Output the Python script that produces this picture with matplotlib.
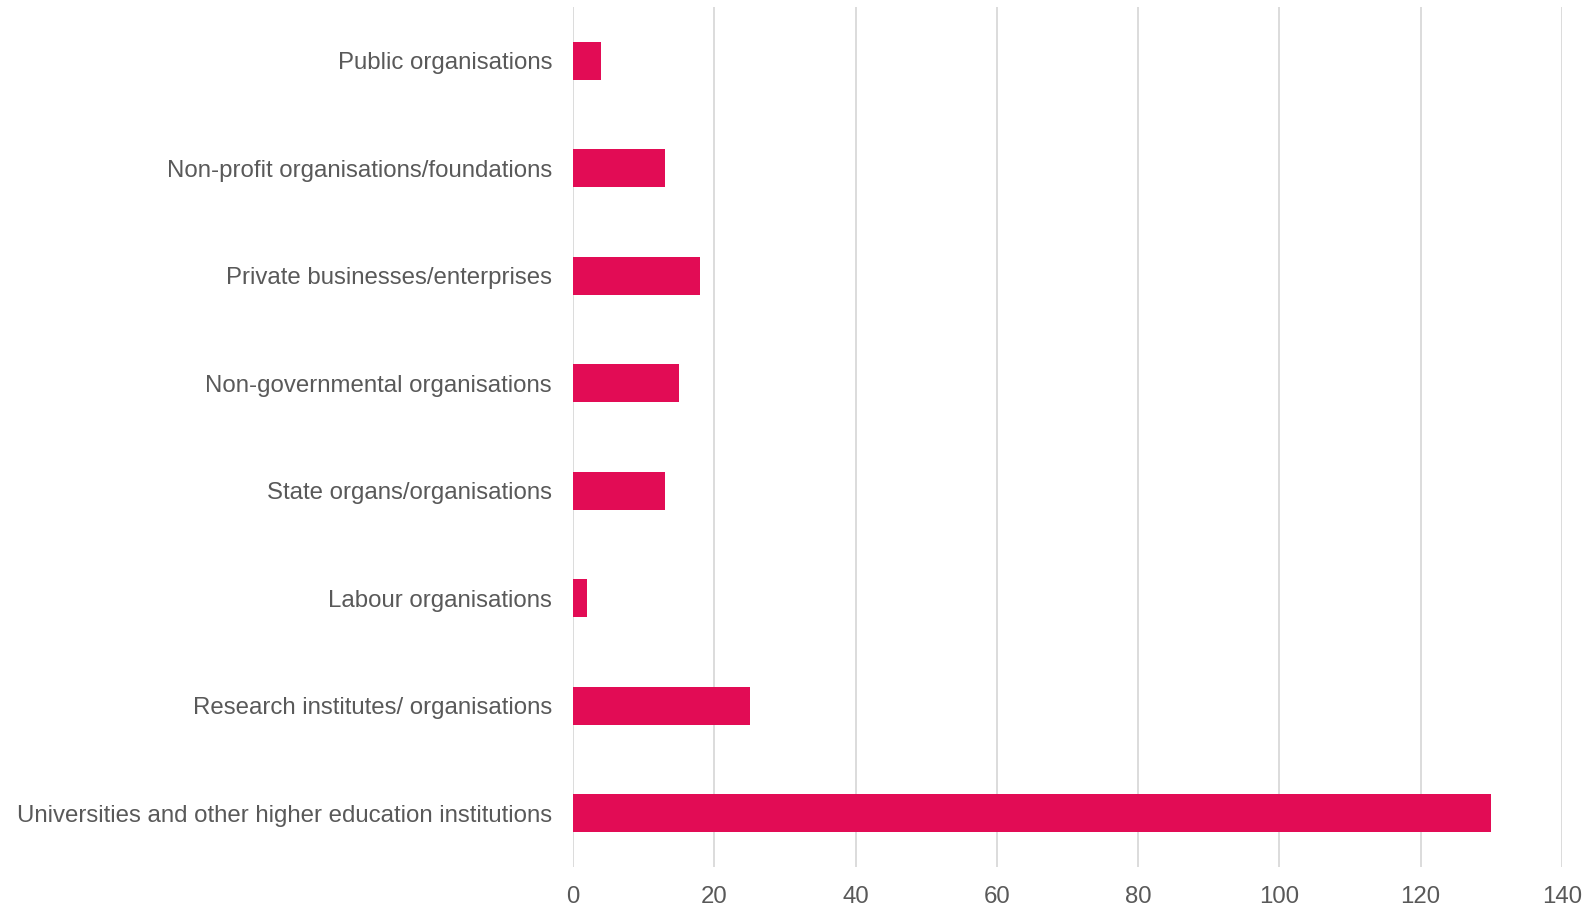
import matplotlib.pyplot as plt

# Data
categories = [
    'Universities and other higher education institutions',
    'Research institutes/ organisations',
    'Labour organisations',
    'State organs/organisations',
    'Non-governmental organisations',
    'Private businesses/enterprises',
    'Non-profit organisations/foundations',
    'Public organisations',
]
counts = [130, 25, 2, 13, 15, 18, 13, 4]
x_ticks = [0, 20, 40, 60, 80, 100, 120, 140]

BAR_COLOR = '#E20C55'
TEXT_COLOR = '#595959'
GRID_COLOR = '#D9D9D9'

plt.rcParams['font.family'] = ['Liberation Sans', 'DejaVu Sans']

fig = plt.figure(figsize=(15.88, 9.09), dpi=100)
ax = fig.add_axes([0.3608, 0.0462, 0.6228, 0.9461])

ax.barh(range(len(categories)), counts, height=0.35, color=BAR_COLOR)

ax.set_xlim(0, 140)
ax.set_ylim(-0.5, len(categories) - 0.5)
ax.set_xticks(x_ticks)
ax.set_yticks(range(len(categories)))
ax.set_yticklabels(categories)

ax.grid(True, axis='x', color=GRID_COLOR, linewidth=1.3)
ax.set_axisbelow(True)
for side in ['top', 'right', 'bottom', 'left']:
    ax.spines[side].set_visible(False)

ax.tick_params(axis='both', length=0, colors=TEXT_COLOR, labelsize=17.3)
ax.tick_params(axis='y', pad=15)
ax.tick_params(axis='x', pad=13.5)

fig.savefig('out.png', dpi=100)
plt.close(fig)
